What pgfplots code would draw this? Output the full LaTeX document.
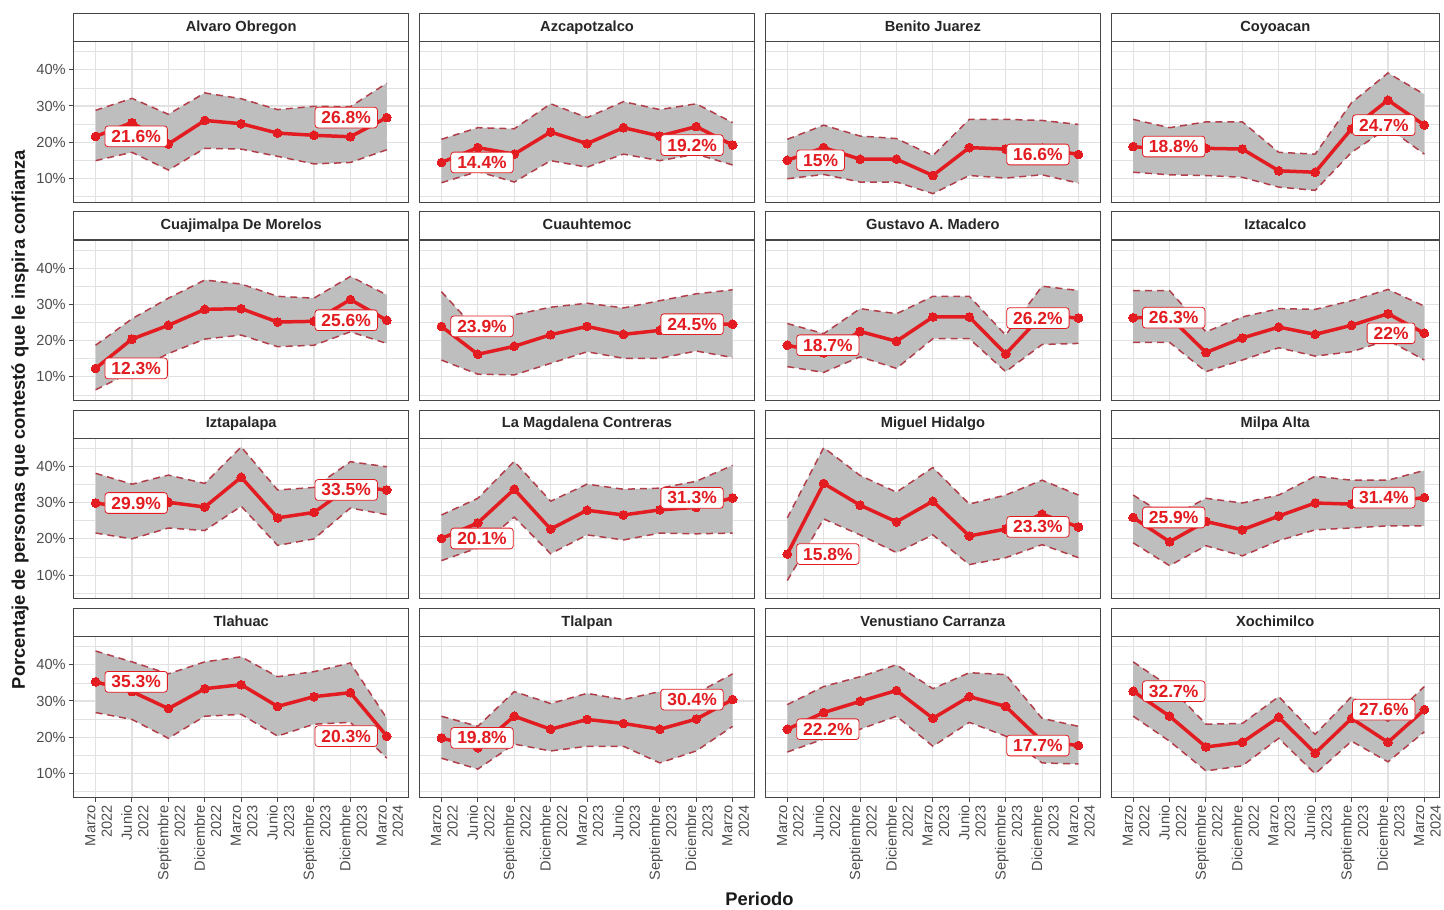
\documentclass[border=0pt]{standalone}
\usepackage{pgfplots}
\pgfplotsset{compat=1.18}
\usepackage{pgfplotstable}
\usepgfplotslibrary{fillbetween}
\usepackage{fontspec}
\setmainfont{Liberation Sans}

\definecolor{redc}{RGB}{226,28,32}
\definecolor{bordc}{RGB}{178,62,74}
\definecolor{ribbon}{RGB}{190,190,190}
\definecolor{gridc}{RGB}{226,226,226}
\definecolor{framec}{RGB}{70,70,70}
\definecolor{tickc}{RGB}{77,77,77}

\pgfplotstableread[row sep=\\]{x m lo hi\\0 21.6 14.9 28.8\\1 25.4 17.2 32.1\\2 19.5 12.3 27.7\\3 26.0 18.3 33.6\\4 25.1 18.1 32.0\\5 22.5 16.1 29.0\\6 21.9 14.0 29.9\\7 21.5 14.4 29.8\\8 26.8 17.9 36.3\\}\tA
\pgfplotstableread[row sep=\\]{x m lo hi\\0 14.4 8.8 20.8\\1 18.5 11.9 24.0\\2 16.7 9.0 23.7\\3 22.8 14.9 30.6\\4 19.6 13.1 26.8\\5 24.0 16.7 31.2\\6 21.7 14.9 29.0\\7 24.3 16.7 30.6\\8 19.2 13.7 25.4\\}\tB
\pgfplotstableread[row sep=\\]{x m lo hi\\0 15.0 9.9 20.8\\1 18.5 11.1 24.7\\2 15.3 9.0 21.7\\3 15.3 9.0 21.0\\4 10.8 5.8 16.3\\5 18.5 10.8 26.3\\6 18.1 10.1 26.3\\7 18.3 11.0 26.0\\8 16.6 8.7 24.9\\}\tC
\pgfplotstableread[row sep=\\]{x m lo hi\\0 18.8 11.7 26.3\\1 17.8 11.0 24.0\\2 18.3 10.8 25.6\\3 18.1 10.3 25.6\\4 12.1 7.6 17.2\\5 11.7 6.7 16.7\\6 23.7 17.2 30.9\\7 31.6 24.0 39.1\\8 24.7 16.7 33.2\\}\tD
\pgfplotstableread[row sep=\\]{x m lo hi\\0 12.3 6.4 18.7\\1 20.4 11.4 26.0\\2 24.2 16.4 31.7\\3 28.6 20.4 36.7\\4 28.8 21.5 35.6\\5 25.1 18.3 32.2\\6 25.3 18.7 31.7\\7 31.3 22.4 37.7\\8 25.6 19.2 32.6\\}\tE
\pgfplotstableread[row sep=\\]{x m lo hi\\0 23.9 14.6 33.5\\1 16.2 10.7 22.5\\2 18.4 10.5 27.1\\3 21.6 13.7 29.2\\4 23.9 16.9 30.3\\5 21.7 15.1 29.0\\6 22.8 15.1 31.0\\7 24.5 17.1 32.9\\8 24.5 15.3 34.0\\}\tF
\pgfplotstableread[row sep=\\]{x m lo hi\\0 18.7 12.8 24.7\\1 16.6 11.2 21.9\\2 22.5 15.5 28.8\\3 19.8 12.3 27.4\\4 26.5 20.5 32.2\\5 26.5 20.5 32.2\\6 16.3 11.4 21.5\\7 27.0 18.9 35.0\\8 26.2 19.2 33.8\\}\tG
\pgfplotstableread[row sep=\\]{x m lo hi\\0 26.3 19.5 33.8\\1 26.5 19.5 33.8\\2 16.7 11.4 22.4\\3 20.7 14.6 26.5\\4 23.7 18.0 28.8\\5 21.7 15.7 28.6\\6 24.2 16.9 31.0\\7 27.4 20.1 34.1\\8 22.0 14.6 29.5\\}\tH
\pgfplotstableread[row sep=\\]{x m lo hi\\0 29.9 21.6 38.1\\1 28.5 20.0 35.1\\2 30.1 23.0 37.6\\3 28.8 22.3 35.3\\4 37.0 29.0 45.4\\5 25.8 18.2 33.5\\6 27.3 20.0 34.2\\7 34.5 28.5 41.3\\8 33.5 26.7 39.9\\}\tI
\pgfplotstableread[row sep=\\]{x m lo hi\\0 20.1 14.0 26.6\\1 24.4 17.5 31.2\\2 33.7 26.0 41.4\\3 22.7 15.9 30.4\\4 27.9 21.1 35.1\\5 26.6 19.7 33.7\\6 28.0 21.6 34.0\\7 28.7 21.4 35.9\\8 31.3 21.6 40.3\\}\tJ
\pgfplotstableread[row sep=\\]{x m lo hi\\0 15.8 8.5 25.8\\1 35.3 25.5 45.2\\2 29.3 21.1 37.5\\3 24.7 16.2 32.9\\4 30.4 21.1 39.7\\5 20.8 12.9 29.6\\6 22.7 14.8 32.1\\7 26.8 18.4 36.2\\8 23.3 14.8 32.1\\}\tK
\pgfplotstableread[row sep=\\]{x m lo hi\\0 25.9 18.9 32.1\\1 19.2 12.6 25.8\\2 24.8 18.1 31.2\\3 22.5 15.3 29.9\\4 26.3 19.5 32.1\\5 29.9 22.5 37.3\\6 29.6 23.0 36.2\\7 30.2 23.6 36.2\\8 31.4 23.6 38.9\\}\tL
\pgfplotstableread[row sep=\\]{x m lo hi\\0 35.3 26.8 43.8\\1 32.6 24.9 40.8\\2 27.9 19.7 37.5\\3 33.4 25.8 40.8\\4 34.5 26.3 42.2\\5 28.5 20.3 36.7\\6 31.2 23.6 38.1\\7 32.3 24.1 40.5\\8 20.3 14.2 25.2\\}\tM
\pgfplotstableread[row sep=\\]{x m lo hi\\0 19.8 14.2 25.8\\1 17.1 11.2 23.0\\2 25.8 18.1 32.6\\3 22.2 16.2 29.3\\4 24.9 17.5 32.1\\5 23.8 17.5 30.4\\6 22.2 12.9 32.6\\7 25.0 16.2 32.1\\8 30.4 23.0 37.5\\}\tN
\pgfplotstableread[row sep=\\]{x m lo hi\\0 22.2 15.9 29.0\\1 26.8 19.5 34.0\\2 29.9 22.2 36.7\\3 32.9 25.8 40.0\\4 25.2 17.5 33.4\\5 31.2 24.1 37.8\\6 28.5 20.3 37.3\\7 18.9 12.9 25.2\\8 17.7 12.6 23.0\\}\tO
\pgfplotstableread[row sep=\\]{x m lo hi\\0 32.7 25.8 40.8\\1 25.8 18.9 34.0\\2 17.3 10.7 23.6\\3 18.6 12.1 23.8\\4 25.5 19.7 31.2\\5 15.6 9.9 20.8\\6 25.2 18.9 31.2\\7 18.6 13.2 24.4\\8 27.6 21.5 34.0\\}\tP

\pgfplotsset{
  every axis title/.style={at={(0.5,1)}, anchor=south, draw=framec, fill=white,
    line width=1pt, minimum width=336pt, minimum height=28pt, inner sep=0pt,
    text height=10.6pt, text depth=3pt,
    font=\bfseries\fontsize{14.7}{16}\selectfont, text=black!85},
  panel/.style={
    scale only axis, width=336pt, height=161pt, anchor=south west,
    xmin=-0.6, xmax=8.6, ymin=3.4, ymax=47.7,
    xtick={0,...,8}, ytick={10,20,30,40}, minor ytick={5,15,25,35,45},
    xtick pos=bottom, ytick pos=left,
    xmajorgrids=true, ymajorgrids=true, yminorgrids=true,
    major grid style={gridc, line width=1.1pt},
    minor grid style={gridc, line width=0.55pt},
    axis line style={framec, line width=1pt},
    tick align=outside, major tick length=4.5pt, minor tick length=0pt,
    xticklabels={}, yticklabels={},
    xtick style={draw=none}, ytick style={draw=none},
    tick label style={font=\fontsize{14.7}{16.5}\selectfont, text=tickc},
  },
  rightcol/.style={width=329pt, xmax=8.408, title style={minimum width=329pt}},
  leftcol/.style={ytick style={draw=framec, line width=1pt},
    yticklabels={10\%,20\%,30\%,40\%}},
  bottomrow/.style={xtick style={draw=framec, line width=1pt},
    xticklabel style={rotate=90, anchor=east, align=right, yshift=-3pt},
    xticklabels={{Marzo\\2022},{Junio\\2022},{Septiembre\\2022},{Diciembre\\2022},{Marzo\\2023},{Junio\\2023},{Septiembre\\2023},{Diciembre\\2023},{Marzo\\2024}}},
  bord/.style={bordc, line width=1.5pt, dash pattern=on 7pt off 5pt},
  mainline/.style={redc, line width=3.5pt, mark=*, mark size=4.4pt, mark options={solid, fill=redc, draw=redc, line width=0pt}},
}
\tikzset{lbl/.style={draw=redc, fill=white, text=redc, rounded corners=3pt, line width=0.8pt,
  inner xsep=6.5pt, inner ysep=4.2pt, font=\bfseries\fontsize{17.5}{18}\selectfont}}

\newcommand{\panel}[7]{%
\begin{axis}[panel, at={(#1pt,#2pt)}, title={#3}, #7]
\addplot[draw=none, name path=hi] table[x=x,y=hi] {#4};
\addplot[draw=none, name path=lo] table[x=x,y=lo] {#4};
\addplot[fill=ribbon, draw=none] fill between[of=hi and lo];
\addplot[bord] table[x=x,y=hi] {#4};
\addplot[bord] table[x=x,y=lo] {#4};
\addplot[mainline] table[x=x,y=m] {#4};
\begin{pgfonlayer}{axis foreground}
\node[lbl, anchor=west, xshift=9pt] at (axis cs:0,#5) {#5\%};
\node[lbl, anchor=east, xshift=-9pt] at (axis cs:8,#6) {#6\%};
\end{pgfonlayer}
\end{axis}}

\begin{document}
\begin{tikzpicture}
\panel{74}{708}{Alvaro Obregon}{\tA}{21.6}{26.8}{leftcol}
\panel{421}{708}{Azcapotzalco}{\tB}{14.4}{19.2}{}
\panel{768}{708}{Benito Juarez}{\tC}{15}{16.6}{}
\panel{1115}{708}{Coyoacan}{\tD}{18.8}{24.7}{rightcol}
\panel{74}{509}{Cuajimalpa De Morelos}{\tE}{12.3}{25.6}{leftcol}
\panel{421}{509}{Cuauhtemoc}{\tF}{23.9}{24.5}{}
\panel{768}{509}{Gustavo A. Madero}{\tG}{18.7}{26.2}{}
\panel{1115}{509}{Iztacalco}{\tH}{26.3}{22}{rightcol}
\panel{74}{310}{Iztapalapa}{\tI}{29.9}{33.5}{leftcol}
\panel{421}{310}{La Magdalena Contreras}{\tJ}{20.1}{31.3}{}
\panel{768}{310}{Miguel Hidalgo}{\tK}{15.8}{23.3}{}
\panel{1115}{310}{Milpa Alta}{\tL}{25.9}{31.4}{rightcol}
\panel{74}{111}{Tlahuac}{\tM}{35.3}{20.3}{leftcol,bottomrow}
\panel{421}{111}{Tlalpan}{\tN}{19.8}{30.4}{bottomrow}
\panel{768}{111}{Venustiano Carranza}{\tO}{22.2}{17.7}{bottomrow}
\panel{1115}{111}{Xochimilco}{\tP}{32.7}{27.6}{bottomrow,rightcol}
\node[rotate=90, font=\bfseries\fontsize{18.4}{20}\selectfont, text=black!90] at (20pt,490pt) {Porcentaje de personas que contestó que le inspira confianza};
\node[anchor=base, font=\bfseries\fontsize{18.4}{20}\selectfont, text=black!90] at (762pt,2pt) {Periodo};
\path (0pt,0pt) rectangle (1444pt,911pt);
\end{tikzpicture}
\end{document}
